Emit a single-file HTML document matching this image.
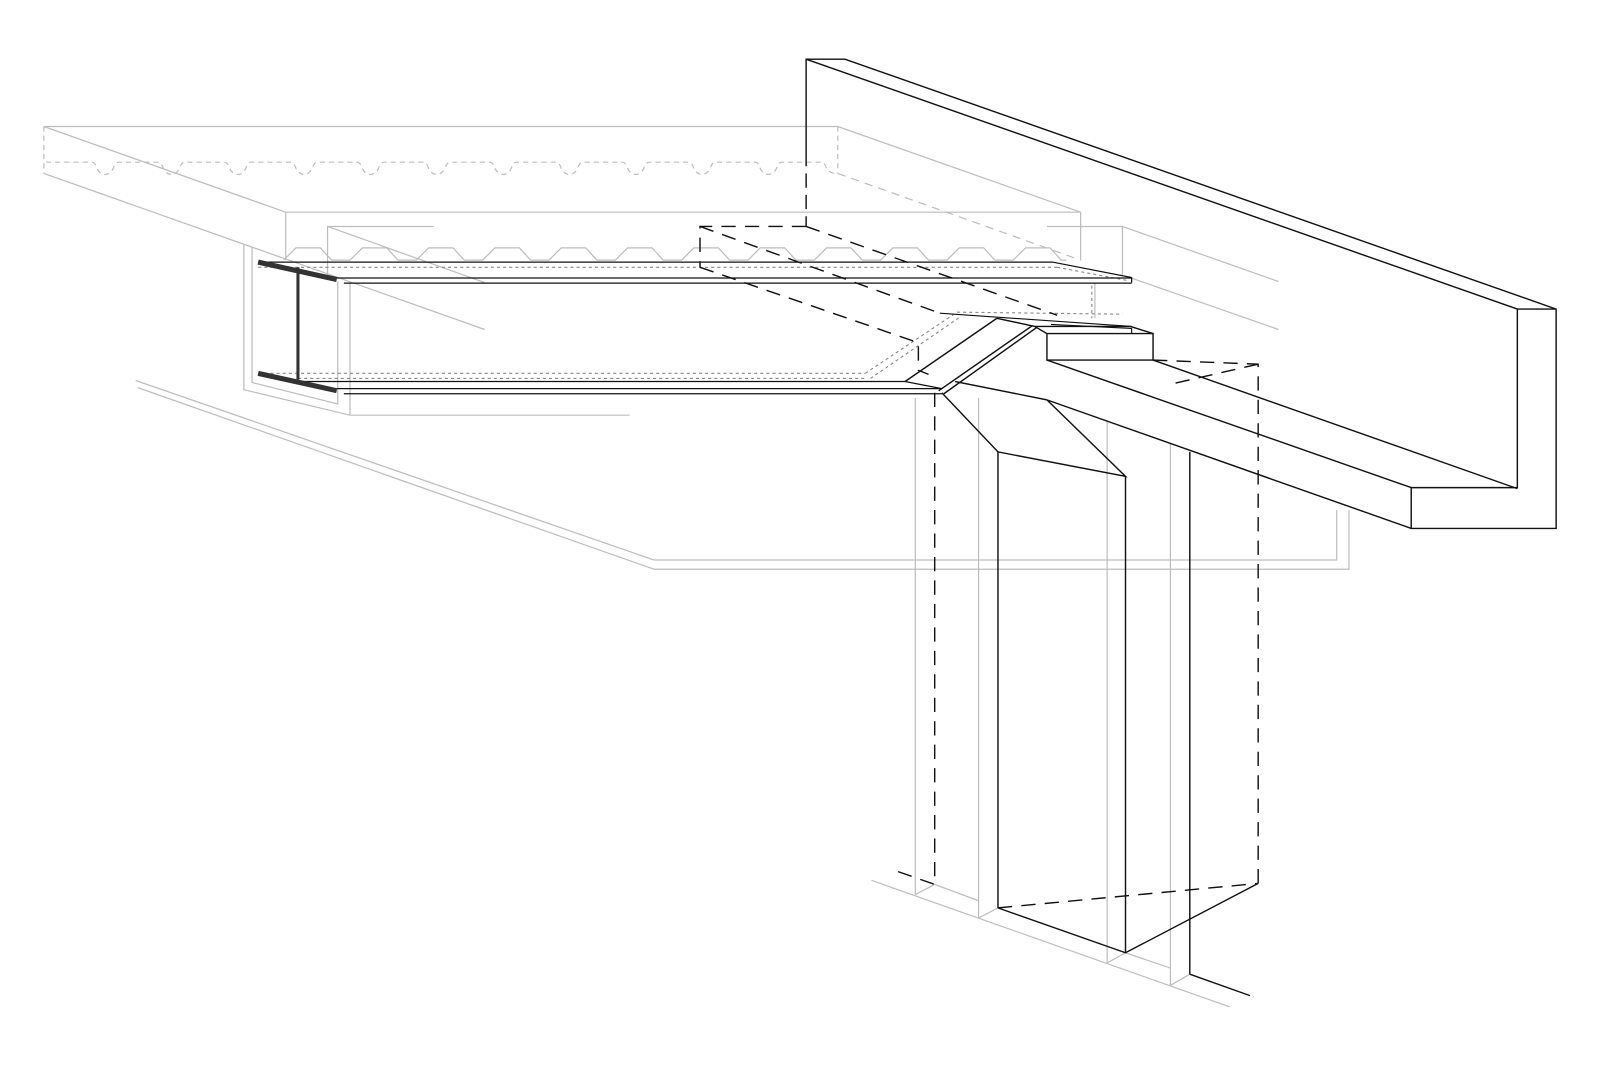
<!DOCTYPE html>
<html><head><meta charset="utf-8"><style>html,body{margin:0;padding:0;background:#fff}svg{display:block}</style></head>
<body>
<svg width="1600" height="1066" viewBox="0 0 1568 1045" preserveAspectRatio="none" xmlns="http://www.w3.org/2000/svg">
<g fill="none" stroke="#bdbdbd" stroke-width="1.2">
<!-- slab -->
<line x1="43" y1="124" x2="821" y2="124"/>
<line x1="43" y1="124" x2="280" y2="208"/>
<line x1="43" y1="170" x2="475" y2="323"/>
<line x1="280" y1="208" x2="1059" y2="208"/>
<line x1="280" y1="208" x2="280" y2="255"/>
<line x1="821" y1="124" x2="1059" y2="208"/>
<line x1="1059" y1="208" x2="1059" y2="255"/>
<line x1="43" y1="124" x2="43" y2="170" stroke-dasharray="5,4"/>
<line x1="821" y1="124" x2="821" y2="170" stroke-dasharray="5,4"/>
<line x1="821" y1="170" x2="1059" y2="255" stroke-dasharray="8,6"/>
<path d="M45,159 H90 q3,0 5,6 q3,6 8,6 q5,0 8,-6 q2,-6 5,-6 H155 q3,0 5,6 q3,6 8,6 q5,0 8,-6 q2,-6 5,-6 H220 q3,0 5,6 q3,6 8,6 q5,0 8,-6 q2,-6 5,-6 H285 q3,0 5,6 q3,6 8,6 q5,0 8,-6 q2,-6 5,-6 H350 q3,0 5,6 q3,6 8,6 q5,0 8,-6 q2,-6 5,-6 H415 q3,0 5,6 q3,6 8,6 q5,0 8,-6 q2,-6 5,-6 H480 q3,0 5,6 q3,6 8,6 q5,0 8,-6 q2,-6 5,-6 H545 q3,0 5,6 q3,6 8,6 q5,0 8,-6 q2,-6 5,-6 H610 q3,0 5,6 q3,6 8,6 q5,0 8,-6 q2,-6 5,-6 H675 q3,0 5,6 q3,6 8,6 q5,0 8,-6 q2,-6 5,-6 H740 q3,0 5,6 q3,6 8,6 q5,0 8,-6 q2,-6 5,-6 H805 q3,0 5,6 q3,5 10,5" stroke-dasharray="5,4"/>
<!-- deck corrugation -->
<path d="M278,255 l12,-12 h24 l11,12 h18 l12,-12 h24 l11,12 h18 l12,-12 h24 l11,12 h18 l12,-12 h24 l11,12 h18 l12,-12 h24 l11,12 h18 l12,-12 h24 l11,12 h18 l12,-12 h24 l11,12 h18 l12,-12 h24 l11,12 h18 l12,-12 h24 l11,12 h18 l12,-12 h24 l11,12 h18 l12,-12 h24 l11,12 h18 l12,-12 h24 l11,12 h5"/>
<!-- back gray lines -->
<polyline points="425,222 321,222 321,274"/>
<line x1="321" y1="222" x2="475" y2="277"/>
<polyline points="1026,222 1100,222 1100,270"/>
<line x1="1100" y1="222" x2="1253" y2="276"/>
<line x1="1107" y1="272" x2="1253" y2="323"/>
<!-- left boxes -->
<polyline points="239,240 239,382 343,407 617,407"/>
<polyline points="247,243 247,375 331,396 331,276"/>
<line x1="343" y1="277" x2="343" y2="407"/>
<!-- long ground lines -->
<polyline points="133,373 641,549 1310,549 1310,500"/>
<polyline points="135,380 641,558 1322,558 1322,500"/>
<!-- column gray verticals -->
<line x1="897" y1="390" x2="897" y2="877"/>
<line x1="959" y1="390" x2="959" y2="900"/>
<line x1="1085" y1="413" x2="1085" y2="944"/>
<line x1="1147" y1="435" x2="1147" y2="966"/>
<line x1="854" y1="863" x2="1205" y2="987"/>
<polyline points="897,877 916,867 959,883"/>
<line x1="959" y1="900" x2="978" y2="890"/>
<polyline points="1085,944 1103,934 1147,949"/>
<line x1="1147" y1="966" x2="1166" y2="955"/>
<line x1="1073" y1="277" x2="1073" y2="312"/>
</g>
<!-- dotted gray lines -->
<g fill="none" stroke="#888" stroke-width="1.1" stroke-dasharray="3,3">
<line x1="253" y1="262" x2="1036" y2="262"/>
<line x1="1036" y1="262" x2="1105" y2="275"/>
<line x1="253" y1="366" x2="848" y2="366"/>
<line x1="292" y1="371" x2="850" y2="371"/>
<polyline points="848,366 938,306 1100,308"/>
<polyline points="853,371 942,310"/>
<line x1="1070" y1="280" x2="1070" y2="312"/>
</g>
<!-- black -->
<g fill="none" stroke="#111" stroke-width="1.4">
<!-- wall -->
<polyline points="790,149 790,58 828,58 1525,303 1525,518 1383,518 1383,478 1487,478 1487,303 1525,303"/>
<line x1="790" y1="58" x2="1487" y2="303"/>
<line x1="790" y1="149" x2="790" y2="222" stroke-dasharray="14,7"/>
<!-- beam to wall -->
<line x1="1026" y1="353" x2="1383" y2="478"/>
<line x1="1130" y1="353" x2="1487" y2="479"/>
<line x1="1026" y1="392" x2="1383" y2="518"/>
<!-- block -->
<polygon points="1026,327 1130,327 1130,353 1026,353"/>
<polyline points="1014,320 1108,320 1130,327"/>
<!-- I-beam -->
<line x1="253" y1="257" x2="1032" y2="257" stroke-width="1.2"/>
<polyline points="1032,257 1109,272 1109,277" stroke-width="1.2"/>
<line x1="330" y1="272.5" x2="1109" y2="272.5" stroke-width="1.2"/>
<line x1="337" y1="277.5" x2="1109" y2="277.5" stroke-width="1.2"/>
<line x1="292" y1="374" x2="887" y2="374" stroke-width="1.2"/>
<line x1="330" y1="381" x2="923" y2="381" stroke-width="1.2"/>
<line x1="337" y1="386" x2="923" y2="386" stroke-width="1.2"/>
<line x1="887" y1="374" x2="923" y2="381" stroke-width="1.2"/>
<line x1="253" y1="257" x2="330" y2="274" stroke="#333" stroke-width="5"/>
<line x1="253" y1="366" x2="330" y2="383" stroke="#333" stroke-width="5"/>
<line x1="292" y1="262" x2="292" y2="372" stroke="#333" stroke-width="3"/>
<!-- knee -->
<line x1="887" y1="374" x2="977" y2="312"/>
<line x1="920" y1="383" x2="1012" y2="319"/>
<line x1="925" y1="386" x2="1016" y2="321"/>
<line x1="977" y1="312" x2="1014" y2="320"/>
<line x1="1014" y1="320" x2="1026" y2="327"/>
<line x1="921" y1="307" x2="1109" y2="320" stroke-width="1.1"/>
<polyline points="1030,318 1109,322 1109,327" stroke-width="1.1"/>
<line x1="936" y1="374" x2="1026" y2="392"/>
<!-- column -->
<polyline points="923,385 978,443 1103,467 1026,392"/>
<line x1="978" y1="443" x2="978" y2="890"/>
<line x1="1103" y1="467" x2="1103" y2="934"/>
<line x1="1166" y1="443" x2="1166" y2="955"/>
<polyline points="978,890 1103,934 1233,866"/>
<line x1="1166" y1="955" x2="1225" y2="976"/>
</g>
<!-- black dashed -->
<g fill="none" stroke="#111" stroke-width="1.4" stroke-dasharray="14,9">
<polyline points="790,222 686,222 686,262"/>
<line x1="790" y1="222" x2="1036" y2="309"/>
<line x1="686" y1="222" x2="921" y2="307"/>
<polyline points="686,262 900,336 900,363 910,367"/>
<polyline points="1130,353 1233,357 1233,866"/>
<line x1="1233" y1="357" x2="1150" y2="376"/>
<line x1="978" y1="890" x2="1233" y2="866"/>
<polyline points="916,385 916,867 876,853"/>
</g>
</svg>
</body></html>
